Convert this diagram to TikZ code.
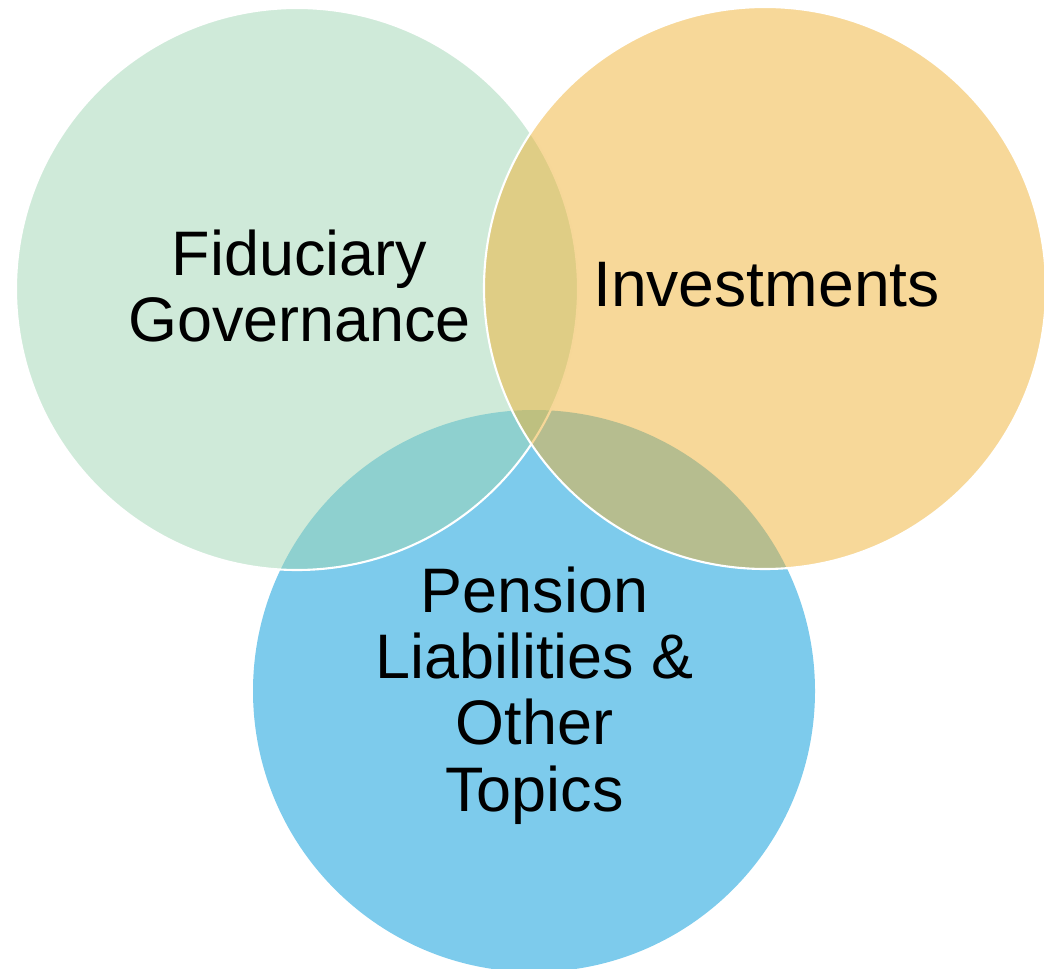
\documentclass[tikz,border=0pt]{standalone}
\usepackage{fontspec}
\setmainfont{Liberation Sans}
\usepackage{tikz}

\definecolor{govgreen}{RGB}{159,213,179}
\definecolor{invorange}{RGB}{239,177,51}
\definecolor{penblue}{RGB}{125,203,236}

\begin{document}
\begin{tikzpicture}[
    topic/.style={circle, minimum size=11.24cm, inner sep=0pt, draw=white, line width=1.2pt},
    topictext/.style={align=center, inner sep=0pt, font=\fontsize{35.8}{37.8}\selectfont}
  ]
         \useasboundingbox (0,0) rectangle (20.88,19.36);
         % circles
         \node[topic, draw=none, fill=penblue] (Pen) at (10.68,5.54) {};
         \node[topic, fill=govgreen, fill opacity=.5] (Gov) at (5.94,13.58) {};
         \node[topic, fill=invorange, fill opacity=.5] (Inv) at (15.30,13.60) {};

         % texts
         \node[topictext] (GovText) at (5.99,13.64) {Fiduciary\\Governance};
         \node[topictext, font=\fontsize{36.6}{40}\selectfont] (InvText) at (15.33,13.67) {Investments};
         \node[topictext] (PenText) at (10.69,5.45) {Pension\\Liabilities \&\\Other\\Topics};
      \end{tikzpicture}
\end{document}
